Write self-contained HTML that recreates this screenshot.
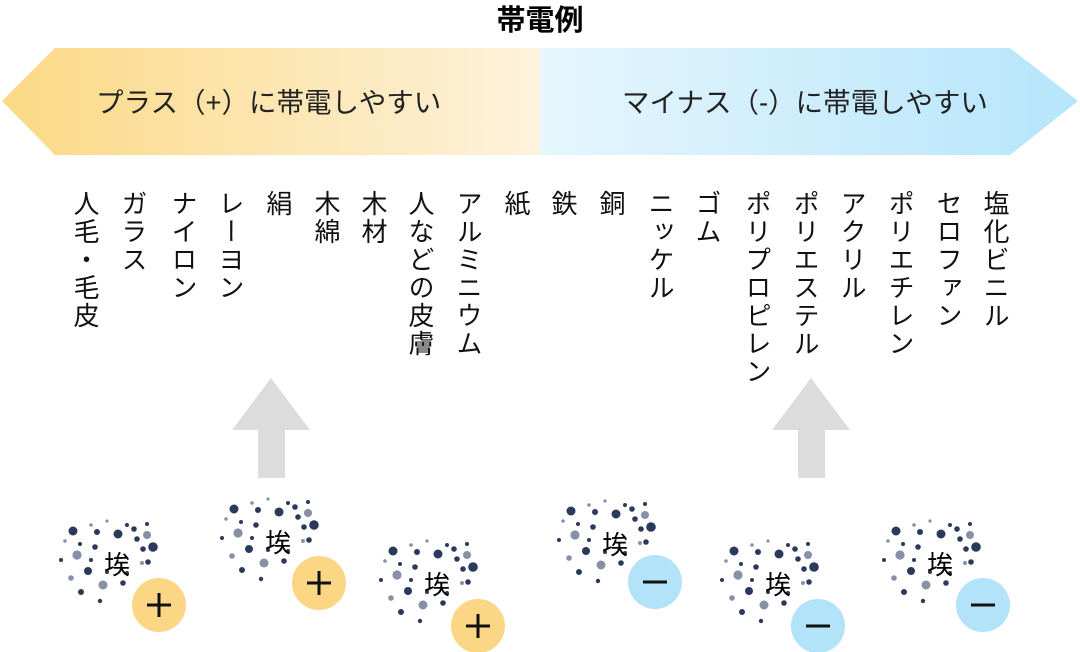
<!DOCTYPE html>
<html><head><meta charset="utf-8"><style>
html,body{margin:0;padding:0;background:#fff}
#w{position:relative;width:1080px;height:652px;overflow:hidden;font-family:"Liberation Sans","Noto Sans CJK JP",sans-serif;color:#111}
svg{position:absolute;left:0;top:0}
svg text{font-family:"Liberation Sans","Noto Sans CJK JP",sans-serif}
.v{position:absolute;top:190px;writing-mode:vertical-rl;font-size:26px;line-height:26px;letter-spacing:2px;white-space:nowrap}
</style></head><body><div id="w">
<svg width="1080" height="652" viewBox="0 0 1080 652">
<defs>
<linearGradient id="gy" x1="0" x2="1"><stop offset="0" stop-color="#fbd985"/><stop offset="1" stop-color="#fdf2dc"/></linearGradient>
<linearGradient id="gb" x1="0" x2="1"><stop offset="0" stop-color="#e6f6fd"/><stop offset="1" stop-color="#b6e5fb"/></linearGradient>
<g id="dust">
<circle cx="-44" cy="-34" r="4.5" fill="#2b3a5c"/><circle cx="-20" cy="-33" r="3" fill="#2b3a5c"/><circle cx="1" cy="-31" r="4.5" fill="#2b3a5c"/>
<circle cx="10" cy="-40" r="2" fill="#2b3a5c"/><circle cx="-10" cy="-44" r="1.6" fill="#8890a8"/><circle cx="30" cy="-41" r="2" fill="#2b3a5c"/>
<circle cx="17" cy="-36" r="2.8" fill="#2b3a5c"/><circle cx="20" cy="-26" r="2.8" fill="#2b3a5c"/><circle cx="30" cy="-30" r="4" fill="#8890a8"/>
<circle cx="-37" cy="-21" r="2" fill="#2b3a5c"/><circle cx="-22" cy="-18" r="2.8" fill="#2b3a5c"/><circle cx="36" cy="-18" r="4.8" fill="#2b3a5c"/>
<circle cx="-52" cy="-24" r="1.8" fill="#8890a8"/><circle cx="-26" cy="-40" r="1.8" fill="#8890a8"/><circle cx="26" cy="-16" r="2.8" fill="#2b3a5c"/>
<circle cx="-40" cy="-10" r="4.6" fill="#8890a8"/><circle cx="-56" cy="-5" r="2" fill="#2b3a5c"/><circle cx="-26" cy="-5" r="2" fill="#2b3a5c"/>
<circle cx="-29" cy="6" r="4" fill="#2b3a5c"/><circle cx="-46" cy="13" r="2.8" fill="#8890a8"/><circle cx="-10" cy="7" r="2" fill="#2b3a5c"/>
<circle cx="-14" cy="20" r="4.5" fill="#8890a8"/><circle cx="-36" cy="27" r="3" fill="#2b3a5c"/><circle cx="-17" cy="36" r="2.2" fill="#2b3a5c"/>
<circle cx="6" cy="18" r="2.8" fill="#2b3a5c"/><circle cx="10" cy="8" r="2" fill="#2b3a5c"/><circle cx="25" cy="-2" r="2" fill="#8890a8"/><circle cx="31" cy="-3" r="2.8" fill="#2b3a5c"/>
</g>
</defs>
<polygon points="55,48 540,48 540,155 55,155 2,101" fill="url(#gy)"/>
<polygon points="540,48 1010,48 1078,101 1010,155 540,155" fill="url(#gb)"/>
<text x="540" y="30" font-size="29" font-weight="bold" text-anchor="middle">帯電例</text>
<text x="96" y="112" font-size="27.5" fill="#222">プラス（+）に帯電しやすい</text>
<text x="622" y="112" font-size="27.5" fill="#222">マイナス（-）に帯電しやすい</text>
<polygon points="271,378 310,430 285,430 285,478 258,478 258,430 232,430" fill="#dcdcdc"/>
<polygon points="811,378 850,430 825,430 825,478 798,478 798,430 772,430" fill="#dcdcdc"/>
<g font-size="26" text-anchor="middle">
<use href="#dust" x="117" y="565"/><text x="117" y="574">埃</text>
<circle cx="159" cy="605" r="27" fill="#fbd785"/><path d="M147 605h24M159 593v24" stroke="#111" stroke-width="3"/>
<use href="#dust" x="278" y="543"/><text x="278" y="552">埃</text>
<circle cx="319" cy="583" r="27" fill="#fbd785"/><path d="M307 583h24M319 571v24" stroke="#111" stroke-width="3"/>
<use href="#dust" x="437" y="585"/><text x="437" y="594">埃</text>
<circle cx="478" cy="626" r="27" fill="#fbd785"/><path d="M466 626h24M478 614v24" stroke="#111" stroke-width="3"/>
<use href="#dust" x="615" y="545"/><text x="615" y="554">埃</text>
<circle cx="655" cy="582" r="27" fill="#b3e3f8"/><path d="M643 582h24" stroke="#111" stroke-width="3"/>
<use href="#dust" x="778" y="585"/><text x="778" y="594">埃</text>
<circle cx="818" cy="626" r="27" fill="#b3e3f8"/><path d="M806 626h24" stroke="#111" stroke-width="3"/>
<use href="#dust" x="940" y="565"/><text x="940" y="574">埃</text>
<circle cx="983" cy="605" r="27" fill="#b3e3f8"/><path d="M971 605h24" stroke="#111" stroke-width="3"/>
</g>
</svg>
<div class="v" style="left:72px">人毛・毛皮</div>
<div class="v" style="left:120px">ガラス</div>
<div class="v" style="left:170px">ナイロン</div>
<div class="v" style="left:217px">レーヨン</div>
<div class="v" style="left:265px">絹</div>
<div class="v" style="left:313px">木綿</div>
<div class="v" style="left:360px">木材</div>
<div class="v" style="left:407px">人などの皮膚</div>
<div class="v" style="left:455px">アルミニウム</div>
<div class="v" style="left:503px">紙</div>
<div class="v" style="left:550px">鉄</div>
<div class="v" style="left:598px">銅</div>
<div class="v" style="left:647px">ニッケル</div>
<div class="v" style="left:694px">ゴム</div>
<div class="v" style="left:744px">ポリプロピレン</div>
<div class="v" style="left:792px">ポリエステル</div>
<div class="v" style="left:839px">アクリル</div>
<div class="v" style="left:887px">ポリエチレン</div>
<div class="v" style="left:935px">セロファン</div>
<div class="v" style="left:982px">塩化ビニル</div>
</div></body></html>
